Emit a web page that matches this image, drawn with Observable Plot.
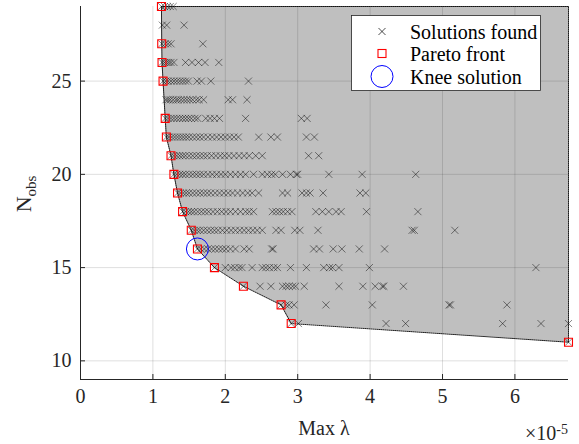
<!DOCTYPE html>
<html>
<head>
<meta charset="utf-8">
<script src="https://cdn.jsdelivr.net/npm/d3@7"></script>
<script src="https://cdn.jsdelivr.net/npm/@observablehq/plot@0.6"></script>
<style>
  html, body { margin: 0; padding: 0; background: #fff; }
  #chart { position: relative; width: 579px; height: 444px; }
</style>
</head>
<body>
<div id="chart"></div>
<script>
// Values of Max λ are in units of 1e-5
const xTicks = [0, 1, 2, 3, 4, 5, 6];
const yTicks = [10, 15, 20, 25];
const xDomain = [0, 6.74];
const yDomain = [9, 29];

// Solutions found, one array per N_obs row (Max λ ×1e-5)
const row29 = [1.118, 1.16, 1.20, 1.24, 1.28];
const row28 = [1.13, 1.19, 1.43];
const row27 = [1.122, 1.17, 1.21, 1.25, 1.69];
const row26 = [1.126, 1.16, 1.19, 1.22, 1.25, 1.29, 1.45, 1.54, 1.63, 1.72, 1.91];
const row25 = [1.14, 1.18, 1.21, 1.25, 1.29, 1.33, 1.37, 1.41, 1.45, 1.49, 1.61, 1.67, 1.80, 2.32];
const row24 = [1.18, 1.21, 1.24, 1.28, 1.32, 1.35, 1.39, 1.43, 1.47, 1.51, 1.55, 1.60, 1.64, 1.70, 2.04, 2.10, 2.30];
const row23 = [1.17, 1.21, 1.25, 1.29, 1.33, 1.37, 1.41, 1.45, 1.49, 1.53, 1.58, 1.62, 1.73, 1.79, 1.85, 1.92, 2.28, 3.05, 3.13];
const row22 = [1.186, 1.22, 1.26, 1.30, 1.34, 1.38, 1.42, 1.46, 1.50, 1.55, 1.60, 1.65, 1.70, 1.76, 1.82, 1.88, 1.94, 2.00, 2.06, 2.12, 2.18, 2.46, 2.63, 2.72, 3.12, 3.23];
const row21 = [1.25, 1.29, 1.33, 1.37, 1.41, 1.45, 1.50, 1.55, 1.60, 1.65, 1.70, 1.75, 1.81, 1.87, 1.93, 1.99, 2.05, 2.12, 2.19, 2.26, 2.33, 2.42, 2.51, 3.15, 3.29];
const row20 = [1.29, 1.33, 1.37, 1.41, 1.45, 1.50, 1.55, 1.60, 1.65, 1.70, 1.76, 1.82, 1.88, 1.94, 2.00, 2.07, 2.14, 2.21, 2.28, 2.39, 2.51, 2.58, 2.64, 2.69, 2.79, 2.90, 2.98, 3.00, 3.43, 3.89, 4.63];
const row19 = [1.34, 1.38, 1.42, 1.46, 1.50, 1.55, 1.60, 1.65, 1.70, 1.75, 1.80, 1.86, 1.92, 1.98, 2.04, 2.10, 2.17, 2.24, 2.31, 2.37, 2.46, 2.79, 2.86, 3.06, 3.12, 3.17, 3.35, 3.86, 3.94];
const row18 = [1.41, 1.45, 1.49, 1.53, 1.57, 1.62, 1.67, 1.72, 1.77, 1.83, 1.89, 1.95, 2.01, 2.07, 2.14, 2.21, 2.28, 2.33, 2.39, 2.65, 2.70, 2.75, 2.80, 2.86, 2.92, 3.25, 3.34, 3.43, 3.53, 3.60, 3.95, 4.66];
const row17 = [1.53, 1.57, 1.61, 1.65, 1.70, 1.75, 1.80, 1.85, 1.90, 1.96, 2.02, 2.08, 2.14, 2.20, 2.26, 2.32, 2.38, 2.44, 2.51, 2.70, 2.77, 2.96, 3.03, 3.28, 4.58, 4.61, 5.17];
const row16 = [1.615, 1.66, 1.71, 1.76, 1.81, 1.86, 1.91, 1.96, 2.01, 2.07, 2.14, 2.26, 2.33, 2.64, 2.66, 3.22, 3.30, 3.49, 3.61, 3.85, 4.20];
const row15 = [1.85, 2.00, 2.08, 2.13, 2.19, 2.23, 2.37, 2.51, 2.56, 2.61, 2.67, 2.72, 2.90, 3.12, 3.36, 3.44, 3.48, 3.57, 3.99, 6.29];
const row14 = [2.25, 2.48, 2.63, 2.79, 2.84, 2.88, 2.93, 2.97, 3.09, 3.57, 3.90, 4.07, 4.17, 4.19, 4.46];
const row13 = [2.77, 2.84, 2.88, 2.95, 3.39, 4.03, 5.09, 5.11, 5.89];
const row12 = [2.91, 3.01, 4.22, 4.49, 5.83, 6.36, 6.74];
const row11 = [6.74];

const rowNobs = [29, 28, 27, 26, 25, 24, 23, 22, 21, 20, 19, 18, 17, 16, 15, 14, 13, 12, 11];
const rowValues = [row29, row28, row27, row26, row25, row24, row23, row22, row21, row20, row19, row18, row17, row16, row15, row14, row13, row12, row11];

// Pareto front
const paretoLambda = [1.118, 1.122, 1.126, 1.14, 1.17, 1.186, 1.25, 1.29, 1.34, 1.41, 1.53, 1.615, 1.85, 2.25, 2.77, 2.91, 6.74];
const paretoN      = [29, 27, 26, 25, 23, 22, 21, 20, 19, 18, 17, 16, 15, 14, 13, 12, 11];

// Knee solution
const kneeLambda = [1.615];
const kneeN = [16];

// ---- build tables ----
const solutions = rowNobs.flatMap((n, i) => rowValues[i].map(l => ({lambda: l, n})));
const pareto = paretoLambda.map((l, i) => ({lambda: l, n: paretoN[i]}));
const knee = kneeLambda.map((l, i) => ({lambda: l, n: kneeN[i]}));
const lambdaMax = d3.max(paretoLambda);
const nMax = d3.max(paretoN);
// closed boundary of the dominated region
const boundary = [...pareto, {lambda: lambdaMax, n: nMax}, pareto[0]];
const areaRows = [...pareto].sort((a, b) => a.n - b.n);

const axisColor = "#262626";
const font = "'Liberation Serif', serif";
const chart = Plot.plot({
  width: 579,
  height: 444,
  marginLeft: 80,
  marginRight: 11,
  marginTop: 6,
  marginBottom: 65,
  style: {fontFamily: font, fontSize: "20px", color: axisColor, background: "white"},
  x: {domain: xDomain, ticks: xTicks, tickSize: -5, tickPadding: 14, label: null, tickFormat: d => String(d)},
  y: {domain: yDomain, ticks: yTicks, tickSize: -5, tickPadding: 14, label: null, tickFormat: d => String(d)},
  marks: [
    Plot.ruleX(xTicks, {stroke: axisColor, strokeOpacity: 0.15}),
    Plot.ruleY(yTicks, {stroke: axisColor, strokeOpacity: 0.15}),
    Plot.areaX(areaRows, {y: "n", x1: "lambda", x2: () => lambdaMax, fill: "black", fillOpacity: 0.25, curve: "linear"}),
    Plot.line(boundary, {x: "lambda", y: "n", stroke: "black", strokeWidth: 0.9, strokeDasharray: "1,1", curve: "linear"}),
    Plot.dot(solutions, {x: "lambda", y: "n", symbol: "times", r: 3.3, stroke: "black", strokeWidth: 0.6, strokeOpacity: 0.8}),
    Plot.dot(pareto, {x: "lambda", y: "n", symbol: "square", r: 4.5, stroke: "#ff0000", strokeWidth: 1.1, fill: "none"}),
    Plot.dot(knee, {x: "lambda", y: "n", r: 11, stroke: "#0000ff", strokeWidth: 1, fill: "none"}),
    Plot.ruleY([yDomain[0]], {stroke: axisColor, strokeWidth: 1}),
    Plot.ruleX([xDomain[0]], {stroke: axisColor, strokeWidth: 1})
  ]
});
document.getElementById("chart").appendChild(chart);

// ---- axis titles and legend as text/decoration ----
const svg = d3.select(chart);

const yt = svg.append("text")
  .attr("transform", "translate(31,194) rotate(-90)")
  .attr("text-anchor", "middle")
  .attr("font-family", font).attr("font-size", 22).attr("fill", axisColor);
yt.append("tspan").text("N");
yt.append("tspan").attr("dy", "0.35em").attr("font-size", 15).text("obs");

svg.append("text")
  .attr("x", 324).attr("y", 435)
  .attr("text-anchor", "middle")
  .attr("font-family", font).attr("font-size", 20).attr("fill", axisColor)
  .text("Max λ");

const ex = svg.append("text")
  .attr("x", 568).attr("y", 440)
  .attr("text-anchor", "end")
  .attr("font-family", font).attr("font-size", 20).attr("fill", axisColor);
ex.append("tspan").text("×10");
ex.append("tspan").attr("dy", "-0.45em").attr("font-size", 14).text("-5");

const lg = svg.append("g");
lg.append("rect").attr("x", 351.5).attr("y", 15.5).attr("width", 189).attr("height", 75)
  .attr("fill", "white").attr("stroke", axisColor).attr("stroke-width", 0.8);
const legendItems = ["Solutions found", "Pareto front", "Knee solution"];
const legendY = [31.5, 53.5, 76.5];
legendItems.forEach((t, i) => {
  lg.append("text").attr("x", 410).attr("y", legendY[i]).attr("dy", "0.35em")
    .attr("text-anchor", "start")
    .attr("font-family", font).attr("font-size", 20).attr("fill", "black").text(t);
});
lg.append("path").attr("d", d3.symbol(d3.symbolTimes, Math.PI * 3.3 * 3.3)())
  .attr("transform", `translate(382,${legendY[0]})`).attr("stroke", "black").attr("stroke-width", 0.7).attr("fill", "none");
lg.append("rect").attr("x", 378).attr("y", legendY[1] - 4).attr("width", 8).attr("height", 8)
  .attr("fill", "none").attr("stroke", "#ff0000").attr("stroke-width", 1.1);
lg.append("circle").attr("cx", 382).attr("cy", legendY[2]).attr("r", 11)
  .attr("fill", "none").attr("stroke", "#0000ff").attr("stroke-width", 1);
</script>
</body>
</html>
